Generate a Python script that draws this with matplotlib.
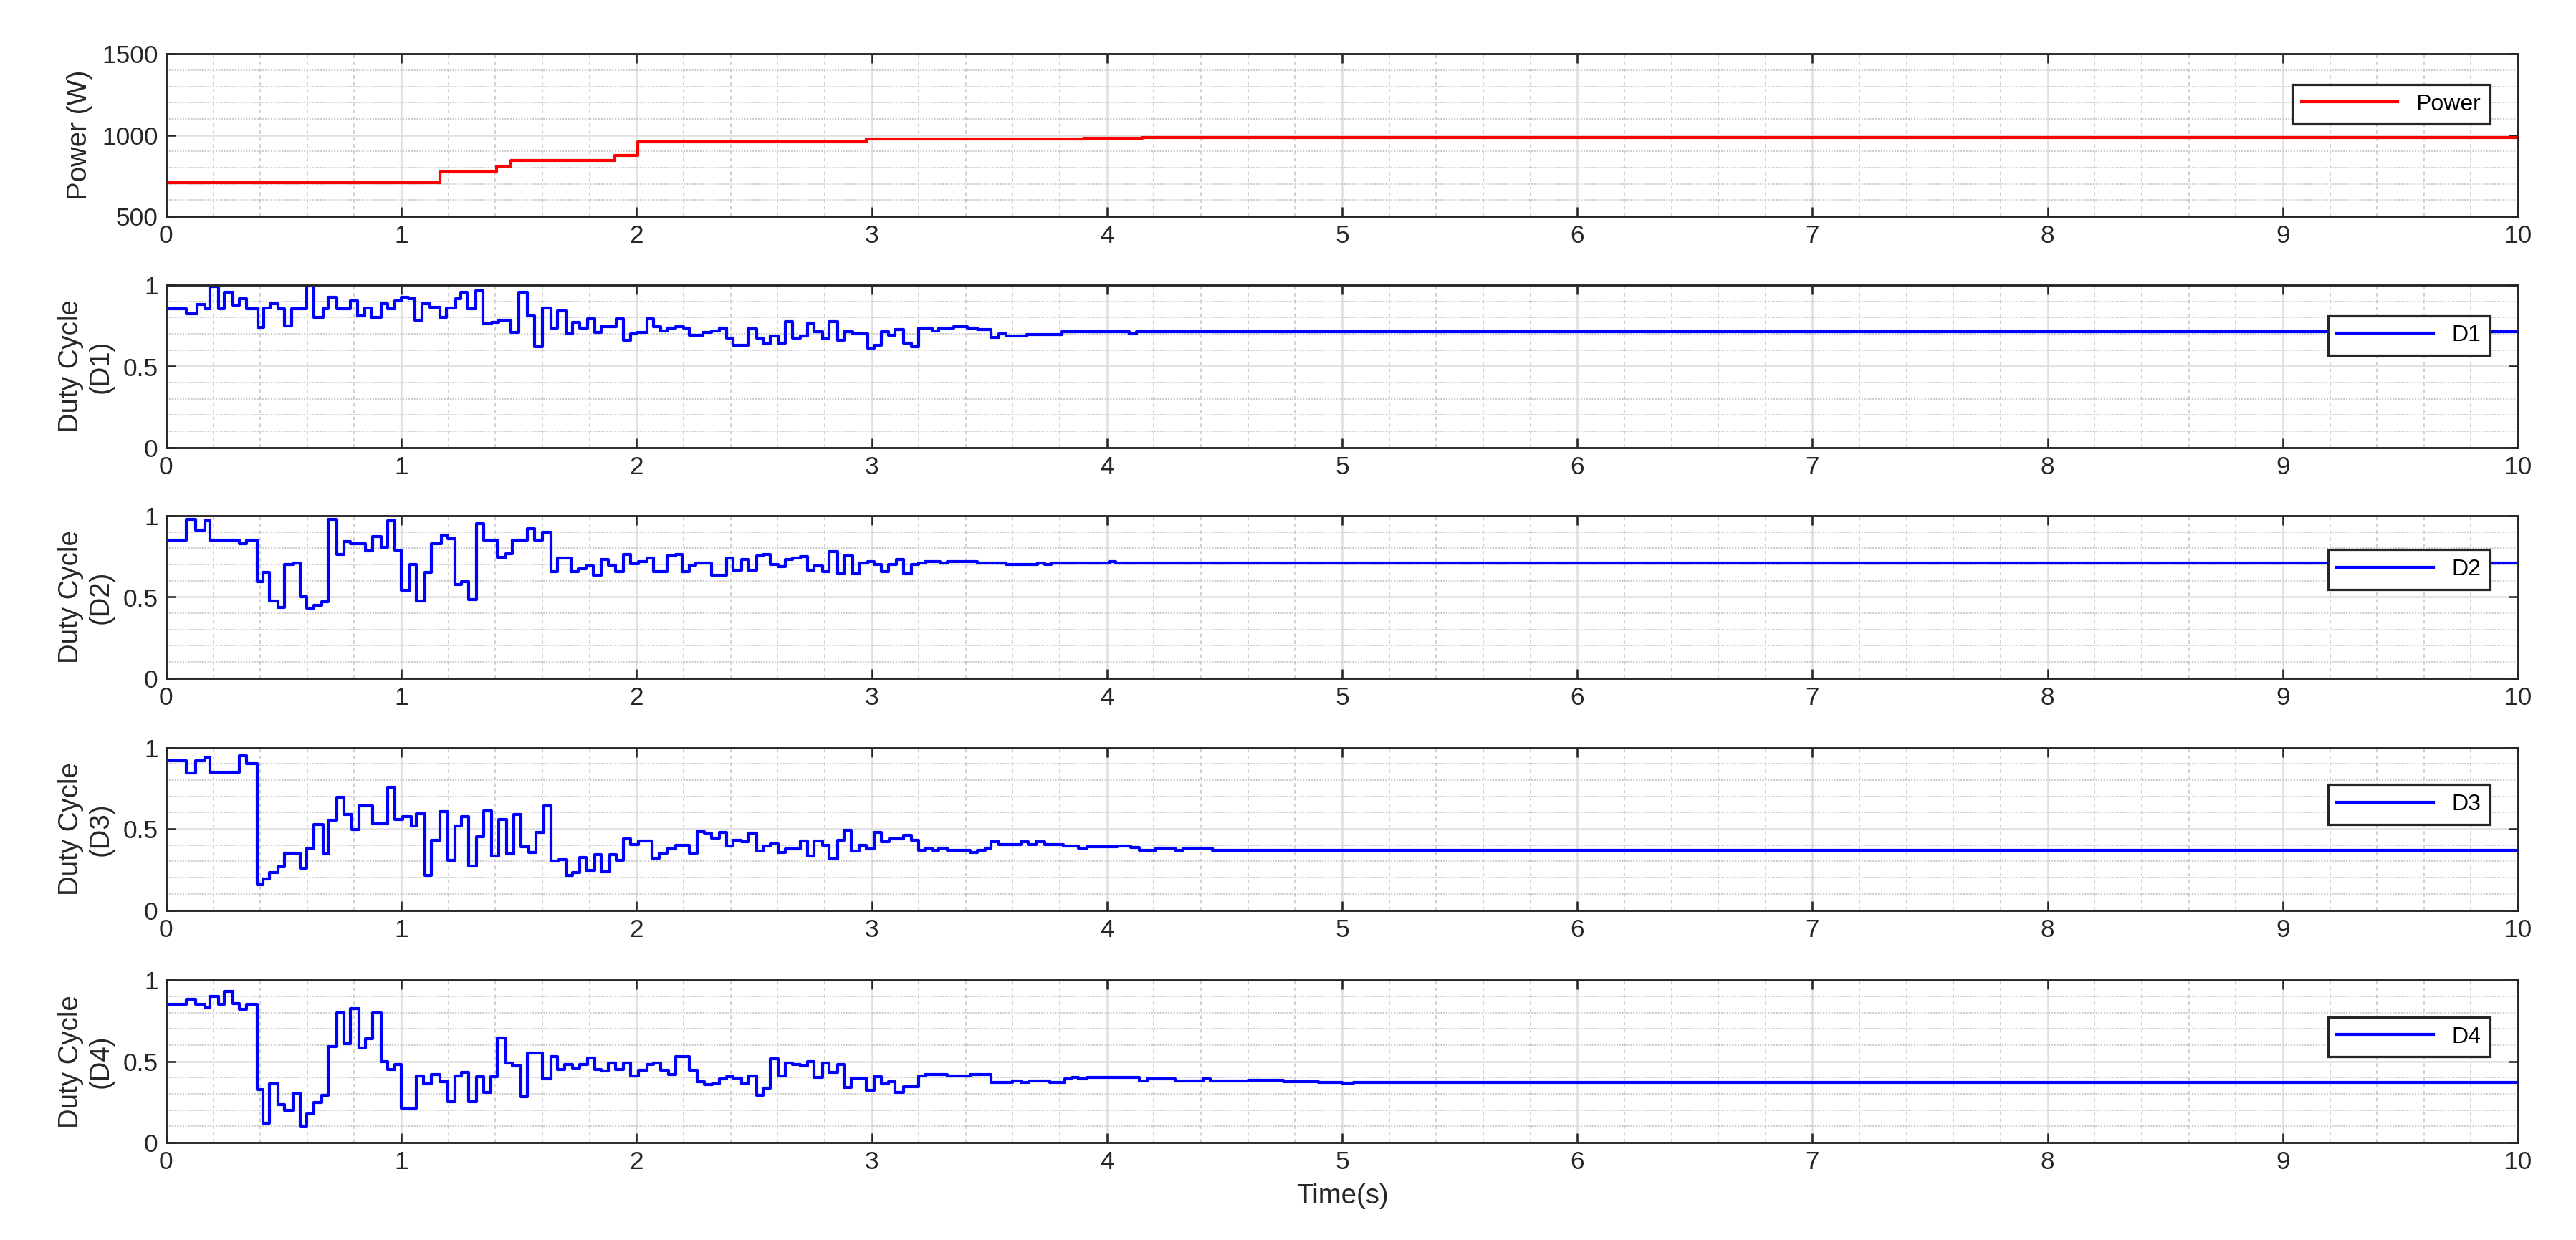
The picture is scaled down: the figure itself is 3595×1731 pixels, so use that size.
import matplotlib
matplotlib.use("Agg")
import matplotlib.pyplot as plt
from matplotlib.ticker import MultipleLocator

plt.rcParams['font.family'] = ['Liberation Sans', 'DejaVu Sans']

# Datos: instantes de cambio (s) y valores de cada senal escalonada
p_t = [0, 1.163, 1.405, 1.466, 1.907, 2.006, 2.977, 3.9, 4.15, 10]
p_v = [706, 775, 809, 843, 875, 959, 975, 980, 983, 983]

d1_t = [0, .085, .13, .166, .187, .224, .248, .283, .312, .341, .39, .414, .443, .475, .504, .534,
        .598, .627, .668, .69, .726, .784, .813, .843, .872, .913, .942, .971, 1.0, 1.03, 1.058,
        1.087, 1.122, 1.163, 1.192, 1.23, 1.254, 1.28, 1.318, 1.347, 1.385, 1.414, 1.466, 1.50,
        1.536, 1.566, 1.60, 1.636, 1.665, 1.70, 1.729, 1.758, 1.793, 1.822, 1.851, 1.915, 1.945,
        1.974, 2.003, 2.044, 2.073, 2.102, 2.131, 2.166, 2.20, 2.224, 2.283, 2.318, 2.353, 2.382,
        2.411, 2.475, 2.51, 2.539, 2.569, 2.603, 2.633, 2.662, 2.697, 2.726, 2.755, 2.79, 2.819,
        2.854, 2.883, 2.918, 2.983, 3.012, 3.04, 3.07, 3.1, 3.134, 3.17, 3.198, 3.257, 3.286,
        3.35, 3.408, 3.45, 3.507, 3.542, 3.571, 3.659, 3.81, 4.096, 4.125, 10]
d1_v = [.855, .825, .88, .855, .99, .855, .955, .875, .915, .855, .74, .86, .885, .855, .75, .855,
        .995, .80, .855, .925, .855, .905, .81, .86, .80, .885, .855, .905, .925, .915, .785,
        .885, .865, .80, .86, .915, .955, .855, .965, .76, .77, .785, .71, .955,
        .81, .62, .86, .735, .84, .70, .77, .735, .795, .71, .745, .795, .66,
        .70, .71, .795, .745, .72, .735, .745, .735, .69, .71, .72, .735, .675,
        .63, .73, .675, .64, .685, .645, .775, .675, .685, .765, .715, .67, .775,
        .66, .715, .70, .61, .63, .715, .69, .725, .645, .62, .735, .72, .735,
        .745, .735, .725, .68, .70, .685, .695, .715, .70, .715, .715]

d2_t = [0, .085, .125, .166, .187, .312, .341, .388, .411, .44, .475, .504, .539, .569, .598, .627,
        .662, .69, .726, .755, .784, .848, .878, .913, .942, .971, 1.0, 1.035, 1.064, 1.099, 1.128,
        1.169, 1.198, 1.227, 1.257, 1.286, 1.32, 1.35, 1.408, 1.443, 1.472, 1.536, 1.566, 1.60,
        1.636, 1.665, 1.723, 1.752, 1.787, 1.816, 1.851, 1.88, 1.91, 1.945, 1.974, 2.009, 2.044,
        2.073, 2.131, 2.166, 2.195, 2.224, 2.253, 2.318, 2.382, 2.411, 2.446, 2.475, 2.51, 2.539,
        2.569, 2.603, 2.633, 2.662, 2.697, 2.726, 2.755, 2.79, 2.819, 2.854, 2.883, 2.918, 2.947,
        2.983, 3.012, 3.04, 3.07, 3.105, 3.134, 3.17, 3.198, 3.227, 3.292, 3.32, 3.45, 3.571,
        3.705, 3.735, 3.764, 4.01, 4.038, 10]
d2_v = [.85, .98, .91, .97, .85, .83, .85, .595, .65, .475, .435, .70, .71, .50, .43, .45,
        .47, .98, .76, .84, .83, .785, .87, .805, .97, .79, .54, .70, .475, .65, .83,
        .88, .86, .575, .595, .485, .95, .85, .745, .765, .85, .92, .85, .90,
        .655, .74, .655, .675, .69, .635, .73, .695, .655, .76, .705, .72, .74,
        .655, .755, .76, .655, .695, .71, .635, .74, .665, .73, .665, .755, .76,
        .70, .685, .73, .74, .75, .665, .69, .655, .78, .645, .755, .645, .71,
        .72, .70, .655, .70, .73, .645, .70, .71, .72, .71, .72, .71, .70,
        .71, .70, .71, .72, .71, .71]

d3_t = [0, .085, .125, .166, .187, .312, .341, .388, .411, .44, .475, .504, .569, .598, .627, .668,
        .69, .726, .755, .79, .819, .878, .942, .971, 1.006, 1.041, 1.064, 1.099, 1.128, 1.163,
        1.198, 1.227, 1.257, 1.286, 1.32, 1.35, 1.385, 1.414, 1.449, 1.478, 1.507, 1.542, 1.571,
        1.606, 1.636, 1.67, 1.70, 1.729, 1.758, 1.787, 1.822, 1.851, 1.886, 1.915, 1.945, 1.974,
        2.009, 2.067, 2.096, 2.131, 2.166, 2.224, 2.259, 2.288, 2.318, 2.353, 2.382, 2.411, 2.446,
        2.475, 2.51, 2.539, 2.569, 2.603, 2.633, 2.697, 2.726, 2.755, 2.79, 2.819, 2.854, 2.883,
        2.913, 2.947, 2.977, 3.012, 3.04, 3.076, 3.134, 3.17, 3.198, 3.227, 3.257, 3.286, 3.32,
        3.42, 3.45, 3.484, 3.507, 3.542, 3.635, 3.665, 3.70, 3.735, 3.816, 3.88, 3.915, 4.044,
        4.102, 4.137, 4.207, 4.289, 4.324, 4.45, 10]
d3_v = [.92, .845, .92, .94, .85, .95, .90, .155, .19, .23, .265, .35, .26, .38, .525, .345,
        .555, .695, .59, .495, .64, .53, .755, .56, .575, .52, .595, .215, .43, .605,
        .305, .52, .575, .27, .45, .61, .335, .56, .345, .59, .39, .355, .48,
        .64, .30, .31, .215, .23, .325, .245, .34, .235, .34, .305, .44, .405,
        .425, .32, .35, .375, .40, .35, .485, .475, .445, .48, .395, .43, .42,
        .475, .365, .395, .41, .355, .375, .425, .335, .425, .40, .315, .43, .49,
        .365, .40, .375, .48, .42, .44, .46, .43, .37, .38, .37, .38, .37,
        .355, .37, .38, .42, .405, .42, .405, .42, .405, .395, .38, .39, .395,
        .385, .37, .38, .37, .38, .37, .37]

d4_t = [0, .085, .125, .166, .187, .224, .248, .283, .312, .341, .388, .411, .44, .475, .504, .539,
        .569, .598, .627, .662, .69, .726, .755, .784, .819, .848, .878, .913, .942, .971, 1.0,
        1.064, 1.093, 1.128, 1.163, 1.198, 1.227, 1.257, 1.286, 1.32, 1.35, 1.379, 1.408, 1.443,
        1.472, 1.507, 1.536, 1.60, 1.636, 1.665, 1.694, 1.729, 1.758, 1.793, 1.822, 1.851, 1.88,
        1.91, 1.945, 1.974, 2.009, 2.044, 2.073, 2.102, 2.137, 2.166, 2.224, 2.259, 2.288, 2.323,
        2.353, 2.382, 2.411, 2.446, 2.475, 2.51, 2.539, 2.569, 2.603, 2.633, 2.662, 2.697, 2.726,
        2.755, 2.79, 2.819, 2.854, 2.883, 2.913, 2.977, 3.012, 3.04, 3.07, 3.1, 3.134, 3.198,
        3.227, 3.32, 3.42, 3.507, 3.6, 3.635, 3.67, 3.758, 3.822, 3.85, 3.88, 3.915, 4.137,
        4.172, 4.289, 4.41, 4.44, 4.6, 4.75, 4.9, 5.0, 5.05, 10]
d4_v = [.85, .88, .85, .83, .90, .85, .93, .855, .82, .85, .325, .12, .36, .235, .20, .305,
        .10, .175, .245, .29, .59, .80, .61, .825, .58, .64, .80, .50, .45, .48, .21,
        .41, .36, .42, .375, .25, .41, .43, .25, .405, .31, .405, .645, .49,
        .47, .28, .55, .39, .53, .45, .48, .46, .48, .52, .45, .44, .49,
        .45, .49, .41, .445, .48, .49, .445, .42, .53, .445, .375, .355, .36,
        .39, .405, .395, .36, .41, .29, .335, .515, .41, .49, .48, .47, .50,
        .40, .49, .43, .48, .34, .395, .32, .405, .36, .375, .31, .345, .41,
        .42, .41, .42, .37, .38, .37, .38, .37, .39, .40, .39, .40, .38,
        .39, .38, .39, .38, .385, .375, .37, .365, .37, .37]

senales = [(p_t, p_v, 'red', 'Power', 'Power (W)'),
           (d1_t, d1_v, 'blue', 'D1', 'Duty Cycle\n(D1)'),
           (d2_t, d2_v, 'blue', 'D2', 'Duty Cycle\n(D2)'),
           (d3_t, d3_v, 'blue', 'D3', 'Duty Cycle\n(D3)'),
           (d4_t, d4_v, 'blue', 'D4', 'Duty Cycle\n(D4)')]

bottoms = [0.8255, 0.639, 0.453, 0.266, 0.0786]
leg_y = [0.69, 0.69, 0.67, 0.65, 0.65]

fig = plt.figure(figsize=(15.6, 7.512), dpi=230.45)

for k, (t, v, c, lab, ylab) in enumerate(senales):
    ax = fig.add_axes([0.0645, bottoms[k], 0.913, 0.131])
    ax.step(t, v, where='post', color=c, lw=1.3, label=lab)
    ax.set_xlim(0, 10)
    ax.xaxis.set_major_locator(MultipleLocator(1))
    ax.xaxis.set_minor_locator(MultipleLocator(0.2))
    if k == 0:
        ax.set_ylim(500, 1500)
        ax.yaxis.set_major_locator(MultipleLocator(500))
        ax.yaxis.set_minor_locator(MultipleLocator(100))
    else:
        ax.set_ylim(0, 1)
        ax.yaxis.set_major_locator(MultipleLocator(0.5))
        ax.yaxis.set_minor_locator(MultipleLocator(0.1))
        ax.yaxis.set_major_formatter(plt.FuncFormatter(lambda x, p: '%g' % x))
    ax.grid(True, which='major', color='#e0e0e0', lw=0.8)
    ax.xaxis.grid(True, which='minor', color='#c8c8c8', lw=0.5, ls=(0, (3, 3)))
    ax.yaxis.grid(True, which='minor', color='#c8c8c8', lw=0.6, ls=(0, (1, 1)))
    ax.set_axisbelow(True)
    ax.tick_params(which='both', direction='in', top=True, right=True, labelsize=11, colors='#262626')
    ax.tick_params(which='minor', length=0)
    ax.tick_params(which='major', length=4, width=0.8)
    for s in ax.spines.values():
        s.set_color('#262626')
        s.set_linewidth(0.9)
    ax.set_ylabel(ylab, fontsize=12, color='#262626')
    ax.legend(loc='center right', bbox_to_anchor=(0.993, leg_y[k]), fontsize=10,
              fancybox=False, edgecolor='#262626', framealpha=1, handlelength=4.2)
    if k == 4:
        ax.set_xlabel('Time(s)', fontsize=12, color='#262626')

fig.savefig('out.png', dpi=230.45)
